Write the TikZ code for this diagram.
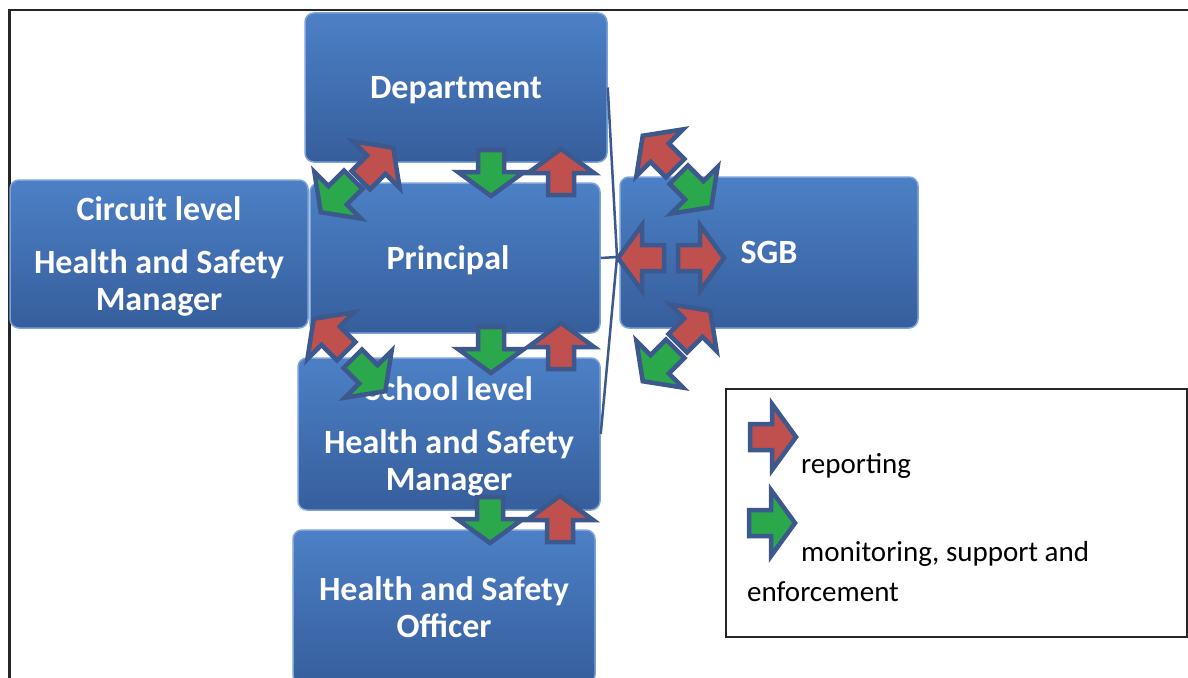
\documentclass[tikz,border=0pt]{standalone}
\usepackage{fontspec}
\setmainfont{Carlito}
\usepackage{xcolor}
\definecolor{hsTop}{RGB}{76,128,198}
\definecolor{hsBot}{RGB}{54,94,156}
\definecolor{hsEdge}{RGB}{125,163,216}
\definecolor{hsLine}{RGB}{60,88,140}
\definecolor{hsRed}{RGB}{192,80,77}
\definecolor{hsGreen}{RGB}{44,168,76}
\tikzset{
    level/.style={
        rounded corners=9pt,top color=hsTop,bottom color=hsBot,
        draw=hsEdge,line width=1.5pt,text=white,align=center,inner sep=0pt,
        text depth=0pt,font=\bfseries\fontsize{34}{37}\selectfont
    },
    link/.style={draw=hsLine,line width=2.5pt},
    keytext/.style={anchor=base west,inner sep=0pt,font=\fontsize{29}{41}\selectfont},
    pics/flow/.style={
        code={\draw[line width=4.5pt,draw=hsLine,fill=#1,line join=miter]
            (-23,-13) -- (-1,-13) -- (-1,-33) -- (23,0) -- (-1,33) -- (-1,13) -- (-23,13) -- cycle;}
    }
}

\begin{document}
\begin{tikzpicture}[x=1pt,y=-1pt]
\clip (0,0) rectangle (1188,677);
\draw[line width=2.5pt,draw=black!85] (9.3,10) rectangle (1210,700);

% the five levels and the SGB
\node[level,minimum width=302,minimum height=149] (dept) at (456,87.5) {Department};
\node[level,minimum width=290,minimum height=150] (prin) at (455,258) {Principal\hspace*{14pt}};
\node[level,minimum width=298,minimum height=148] (circ) at (159,254)
{Circuit level\\[16pt]Health and Safety\\Manager};
\node[level,minimum width=298,minimum height=151] (sgb) at (769,252.5) {SGB};
\node[level,minimum width=302,minimum height=152] (school) at (449,434)
{School level\\[16pt]Health and Safety\\Manager};
\node[level,minimum width=302,minimum height=154] (officer) at (444,607)
{Health and Safety\\Officer};

% side line to the SGB
\coordinate (hub) at (617,257);
\draw[link] (dept.east) -- (hub) -- (school.east);
\draw[link] (prin.east) -- (hub);

% department <-> principal / circuit
\pic[rotate=45] (r1) at (377,164) {flow=hsRed};
\pic[rotate=-135] (g1) at (337,196) {flow=hsGreen};
\pic[rotate=-90] (g2) at (491,173) {flow=hsGreen};
\pic[rotate=90] (r2) at (561,172) {flow=hsRed};

% principal <-> school
\pic[rotate=-90] (g3) at (491,350) {flow=hsGreen};
\pic[rotate=90] (r3) at (561,346) {flow=hsRed};
\pic[rotate=135] (r4) at (330,335) {flow=hsRed};
\pic[rotate=-45] (g4) at (369,375) {flow=hsGreen};

% school <-> officer
\pic[rotate=-90] (g5) at (490,520) {flow=hsGreen};
\pic[rotate=90] (r5) at (560,519) {flow=hsRed};

% around the SGB
\pic[rotate=135] (r6) at (659,152) {flow=hsRed};
\pic[rotate=-45] (g6) at (695,191) {flow=hsGreen};
\pic[rotate=180] (r7) at (641,258) {flow=hsRed};
\pic[rotate=0] (r8) at (701,258) {flow=hsRed};
\pic[rotate=45] (r9) at (694,327) {flow=hsRed};
\pic[rotate=-135] (g7) at (659,365) {flow=hsGreen};

% key
\node[draw=black!85,line width=2pt,minimum width=461,minimum height=248,inner sep=0pt]
(legend) at (956.5,513) {};
\pic (kr) at (773,437) {flow=hsRed};
\pic (kg) at (772,523) {flow=hsGreen};
\node[keytext] (rep) at (801,473) {reporting};
\node[keytext] (mon) at (801,561) {monitoring, support and};
\node[keytext] (enf) at (747,601) {enforcement};

\end{tikzpicture}
\end{document}
